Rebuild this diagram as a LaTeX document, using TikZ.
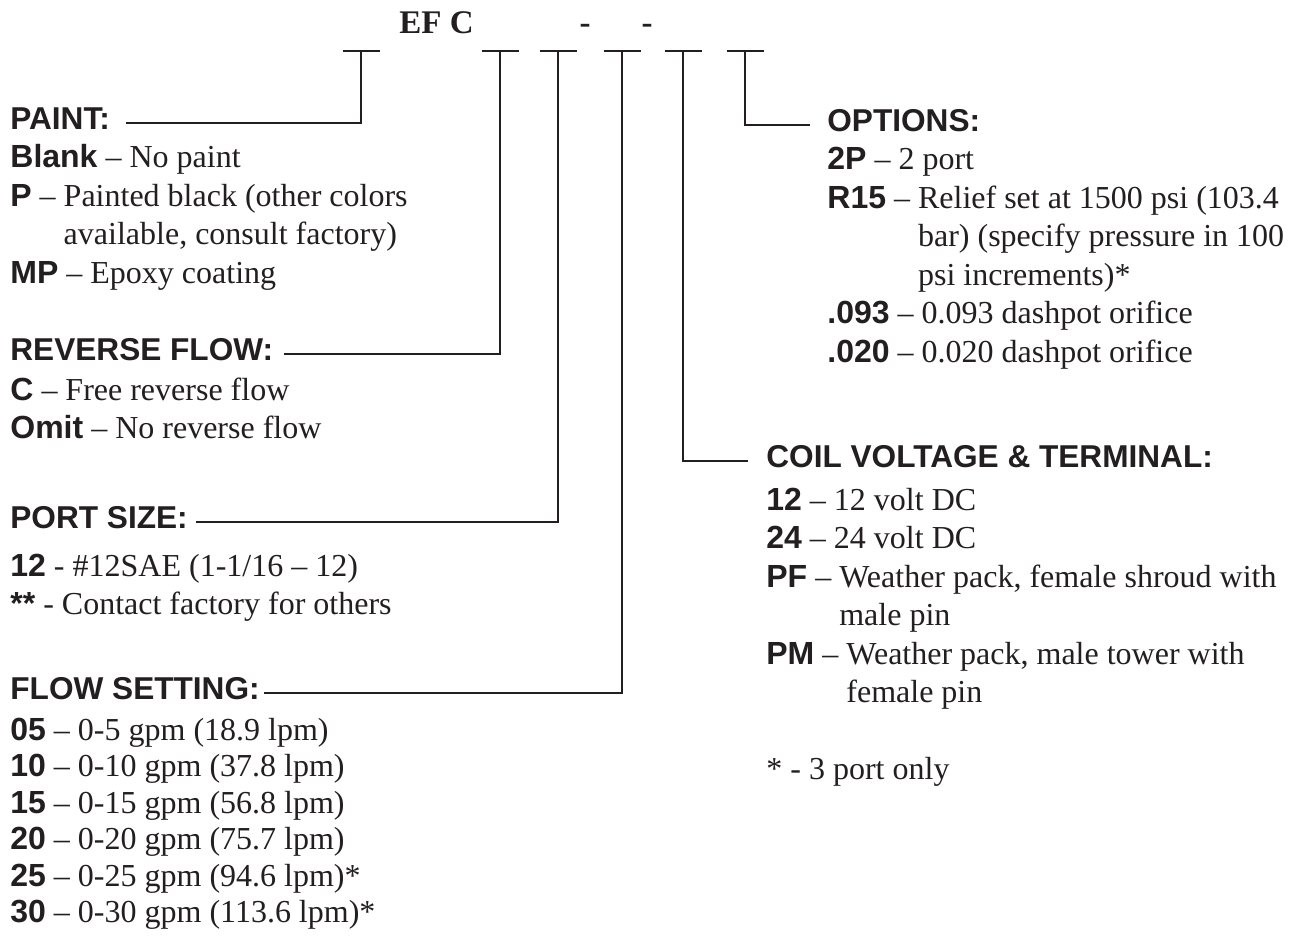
\documentclass[tikz,border=0pt]{standalone}
\usepackage{fontspec}
\setmainfont{Liberation Serif}
\setsansfont{Liberation Sans}
\usetikzlibrary{positioning}

\definecolor{ink}{RGB}{35,31,32}
\newcommand{\code}[1]{\textsf{\bfseries #1}}

\begin{document}
\begin{tikzpicture}[
        x=0.5pt, y=-0.5pt,
        every node/.style={inner sep=0pt, text=ink},
        model/.style={anchor=base west, font=\bfseries\fontsize{16.5}{19.25}\selectfont},
        head/.style={anchor=base west, font=\sffamily\bfseries\fontsize{15.8}{19.25}\selectfont},
        list/.style={anchor=north west, align=left, font=\fontsize{16}{19.25}\selectfont},
        tick/.style={draw=ink, line width=1pt},
        lead/.style={draw=ink, line width=1pt}
    ]
    \path[use as bounding box, fill=white] (0,0) rectangle (1298,943);

    % Model code
    \node[model] (model) at (399,33) {EF C};
    \node[model, anchor=base] (dasha) at (585,33) {-};
    \node[model, anchor=base] (dashb) at (647,33) {-};

    % Ticks
    \coordinate (t1) at (361,51);
    \coordinate (t2) at (500,51);
    \coordinate (t3) at (558,51);
    \coordinate (t4) at (622,51);
    \coordinate (t5) at (683,51);
    \coordinate (t6) at (745,51);
    \draw[tick] ([xshift=-9.25pt]t1) -- ([xshift=9.25pt]t1);
    \draw[tick] ([xshift=-9.25pt]t2) -- ([xshift=9.25pt]t2);
    \draw[tick] ([xshift=-9.25pt]t3) -- ([xshift=9.25pt]t3);
    \draw[tick] ([xshift=-9.25pt]t4) -- ([xshift=9.25pt]t4);
    \draw[tick] ([xshift=-9.25pt]t5) -- ([xshift=9.25pt]t5);
    \draw[tick] ([xshift=-9.25pt]t6) -- ([xshift=9.25pt]t6);

    % Left column
    \node[head] (paint) at (10,129) {PAINT:};
    \node[list, below=5.8pt of paint.base west, anchor=north west] (paintlist) {\strut\code{Blank} -- No paint\\
        \code{P} -- Painted black (other colors\\
        \phantom{\code{P} -- }available, consult factory)\\
        \code{MP} -- Epoxy coating};

    \node[head] (reverse) at (10,360) {REVERSE FLOW:};
    \node[list, below=6.5pt of reverse.base west, anchor=north west] (reverselist) {\strut\code{C} -- Free reverse flow\\
        \code{Omit} -- No reverse flow};

    \node[head] (port) at (10,528) {PORT SIZE:};
    \node[list, below=10.5pt of port.base west, anchor=north west] (portlist) {\strut\code{12} - \#12SAE (1-1/16 -- 12)\\
        \code{**} - Contact factory for others};

    \node[head] (flow) at (10,699) {FLOW SETTING:};
    \node[list, below=7.7pt of flow.base west, anchor=north west, font=\fontsize{16}{18.25}\selectfont] (flowlist) {\strut\code{05} -- 0-5 gpm (18.9 lpm)\\
        \code{10} -- 0-10 gpm (37.8 lpm)\\
        \code{15} -- 0-15 gpm (56.8 lpm)\\
        \code{20} -- 0-20 gpm (75.7 lpm)\\
        \code{25} -- 0-25 gpm (94.6 lpm)*\\
        \code{30} -- 0-30 gpm (113.6 lpm)*};

    % Right column
    \node[head] (options) at (827,131) {OPTIONS:};
    \node[list, below=5.8pt of options.base west, anchor=north west] (optionslist) {\strut\code{2P} -- 2 port\\
        \code{R15} -- Relief set at 1500 psi (103.4\\
        \phantom{\code{R15} -- }bar) (specify pressure in 100\\
        \phantom{\code{R15} -- }psi increments)*\\
        \code{.093} -- 0.093 dashpot orifice\\
        \code{.020} -- 0.020 dashpot orifice};

    \node[head] (coil) at (766,467) {COIL VOLTAGE \& TERMINAL:};
    \node[list, below=8pt of coil.base west, anchor=north west] (coillist) {\strut\code{12} -- 12 volt DC\\
        \code{24} -- 24 volt DC\\
        \code{PF} -- Weather pack, female shroud with\\
        \phantom{\code{PF} -- }male pin\\
        \code{PM} -- Weather pack, male tower with\\
        \phantom{\code{PM} -- }female pin\\[19.25pt]
        * - 3 port only};

    % Leaders
    \draw[lead] (t1) |- ([xshift=8pt, yshift=3.25pt]paint.base east);
    \draw[lead] (t2) |- ([xshift=5pt, yshift=3.25pt]reverse.base east);
    \draw[lead] (t3) |- ([xshift=4pt, yshift=3.25pt]port.base east);
    \draw[lead] (t4) |- ([xshift=2pt, yshift=3.25pt]flow.base east);
    \draw[lead] (t5) |- ([xshift=-9pt, yshift=3.25pt]coil.base west);
    \draw[lead] (t6) |- ([xshift=-8.5pt, yshift=3.25pt]options.base west);
\end{tikzpicture}
\end{document}
